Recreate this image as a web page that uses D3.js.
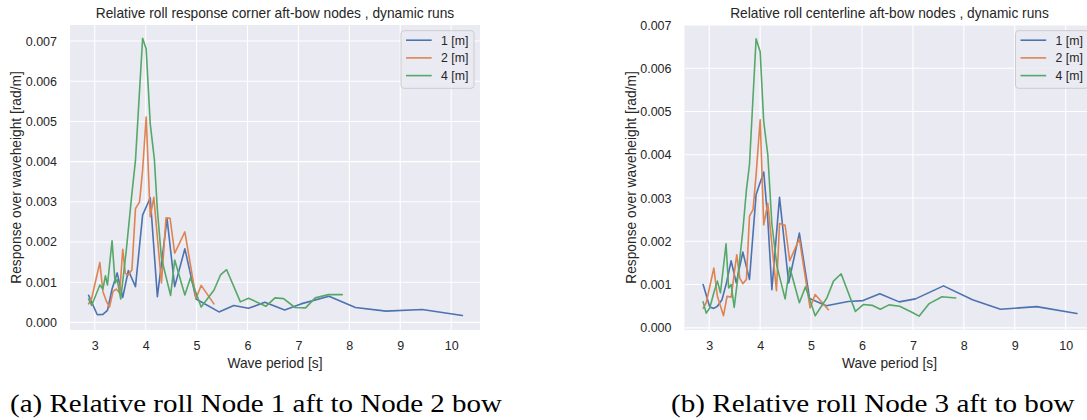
<!DOCTYPE html>
<html>
<head>
<meta charset="utf-8">
<script src="https://cdn.jsdelivr.net/npm/d3@7"></script>
<style>
  html, body { margin: 0; padding: 0; background: #ffffff; }
  svg { display: block; }
</style>
</head>
<body>
<svg id="chart" width="1087" height="420"></svg>
<script>
// ---------- DATA ----------
const xTicks = [3, 4, 5, 6, 7, 8, 9, 10];
const yTicks = [0, 0.001, 0.002, 0.003, 0.004, 0.005, 0.006, 0.007];
const legendLabels = ["1 [m]", "2 [m]", "4 [m]"];
const titles = [
  "Relative roll response corner aft-bow nodes , dynamic runs",
  "Relative roll centerline aft-bow nodes , dynamic runs"
];
const captions = [
  "(a) Relative roll Node 1 aft to Node 2 bow",
  "(b) Relative roll Node 3 aft to bow"
];
const xLabel = "Wave period [s]";
const yLabel = "Response over waveheight [rad/m]";

// Panel (a) – corner aft-bow nodes
const periodA1 = [2.88, 3.05, 3.16, 3.25, 3.34, 3.44, 3.55, 3.66, 3.80, 3.94, 4.09, 4.23, 4.42, 4.57, 4.77, 4.99, 5.44, 5.73, 6.02, 6.34, 6.73, 7.05, 7.60, 8.12, 8.72, 9.43, 10.22];
const respA1   = [0.00067, 0.00019, 0.00020, 0.00030, 0.00083, 0.00123, 0.00062, 0.00129, 0.00089, 0.00267, 0.00310, 0.00064, 0.00258, 0.00089, 0.00183, 0.00058, 0.00026, 0.00042, 0.00035, 0.00050, 0.00031, 0.00046, 0.00065, 0.00037, 0.00028, 0.00032, 0.00017];
const periodA2 = [2.88, 2.94, 3.10, 3.16, 3.23, 3.29, 3.36, 3.42, 3.49, 3.55, 3.60, 3.66, 3.73, 3.80, 3.88, 3.94, 4.01, 4.09, 4.16, 4.31, 4.40, 4.48, 4.57, 4.77, 4.99, 5.09, 5.34];
const respA2   = [0.00046, 0.00060, 0.00149, 0.00077, 0.00052, 0.00038, 0.00077, 0.00083, 0.00073, 0.00182, 0.00122, 0.00118, 0.00131, 0.00283, 0.00300, 0.00379, 0.00511, 0.00263, 0.00311, 0.00098, 0.00260, 0.00259, 0.00172, 0.00225, 0.00060, 0.00092, 0.00046];
const periodA4 = [2.88, 2.94, 3.10, 3.16, 3.21, 3.25, 3.34, 3.40, 3.44, 3.51, 3.62, 3.73, 3.80, 3.94, 4.01, 4.09, 4.17, 4.23, 4.31, 4.49, 4.57, 4.77, 4.88, 5.09, 5.34, 5.47, 5.59, 5.86, 6.02, 6.36, 6.54, 6.71, 6.93, 7.14, 7.33, 7.59, 7.86];
const respA4   = [0.00058, 0.00042, 0.00093, 0.00083, 0.00116, 0.00093, 0.00203, 0.00098, 0.00107, 0.00058, 0.00180, 0.00321, 0.00403, 0.00707, 0.00680, 0.00494, 0.00407, 0.00280, 0.00160, 0.00067, 0.00155, 0.00068, 0.00111, 0.00038, 0.00080, 0.00118, 0.00131, 0.00051, 0.00060, 0.00040, 0.00061, 0.00059, 0.00037, 0.00036, 0.00061, 0.00069, 0.00069];

// Panel (b) – centerline aft-bow nodes
const periodB1 = [2.88, 3.01, 3.09, 3.16, 3.25, 3.33, 3.43, 3.53, 3.66, 3.79, 3.92, 4.07, 4.15, 4.23, 4.38, 4.56, 4.77, 4.97, 5.30, 5.73, 6.02, 6.35, 6.73, 7.05, 7.60, 8.17, 8.72, 9.43, 10.22];
const respB1   = [0.00100, 0.00048, 0.00045, 0.00050, 0.00065, 0.00100, 0.00155, 0.00104, 0.00175, 0.00112, 0.00308, 0.00360, 0.00250, 0.00088, 0.00302, 0.00104, 0.00219, 0.00068, 0.00051, 0.00061, 0.00063, 0.00079, 0.00060, 0.00067, 0.00097, 0.00065, 0.00043, 0.00049, 0.00033];
const periodB2 = [2.88, 2.94, 3.09, 3.16, 3.28, 3.35, 3.43, 3.54, 3.60, 3.66, 3.73, 3.79, 3.86, 3.92, 4.00, 4.07, 4.15, 4.32, 4.38, 4.49, 4.58, 4.77, 4.98, 5.08, 5.34];
const respB2   = [0.00045, 0.00058, 0.00138, 0.00073, 0.00028, 0.00073, 0.00071, 0.00169, 0.00115, 0.00102, 0.00112, 0.00258, 0.00273, 0.00354, 0.00481, 0.00238, 0.00288, 0.00086, 0.00241, 0.00237, 0.00155, 0.00206, 0.00046, 0.00077, 0.00042];
const periodB4 = [2.88, 2.94, 3.01, 3.09, 3.16, 3.22, 3.33, 3.38, 3.43, 3.49, 3.55, 3.66, 3.73, 3.79, 3.92, 4.00, 4.07, 4.15, 4.23, 4.33, 4.49, 4.58, 4.77, 4.89, 5.08, 5.31, 5.44, 5.59, 5.87, 6.03, 6.20, 6.36, 6.53, 6.74, 6.98, 7.12, 7.32, 7.57, 7.84];
const respB4   = [0.00060, 0.00034, 0.00046, 0.00081, 0.00108, 0.00081, 0.00194, 0.00092, 0.00100, 0.00047, 0.00105, 0.00225, 0.00319, 0.00377, 0.00668, 0.00638, 0.00477, 0.00400, 0.00240, 0.00142, 0.00067, 0.00140, 0.00058, 0.00095, 0.00028, 0.00069, 0.00108, 0.00125, 0.00038, 0.00054, 0.00052, 0.00043, 0.00053, 0.00050, 0.00036, 0.00027, 0.00056, 0.00072, 0.00069];

// ---------- STYLE / LAYOUT ----------
const colors = ["#4c72b0", "#dd8452", "#55a868"];
const bg = "#eaeaf2";
const textColor = "#262626";
const sans = "'Liberation Sans', Arial, Helvetica, sans-serif";
const serif = "'Liberation Serif', 'DejaVu Serif', serif";

const plotTop = 25, plotBottom = 330, plotW = 410;
const xDomain = [2.514, 10.566];

const panels = [
  { left: 70, yDomain: [-0.00019, 0.0074], title: titles[0], caption: captions[0], capX: 10, capLen: 492,
    series: [[periodA1, respA1], [periodA2, respA2], [periodA4, respA4]] },
  { left: 684.5, yDomain: [-0.00005, 0.00700], title: titles[1], caption: captions[1], capX: 671, capLen: 403.5,
    series: [[periodB1, respB1], [periodB2, respB2], [periodB4, respB4]] }
];

const svg = d3.select("#chart");
svg.append("rect").attr("width", 1087).attr("height", 420).attr("fill", "#ffffff");

panels.forEach((p, pi) => {
  const x = d3.scaleLinear().domain(xDomain).range([p.left, p.left + plotW]);
  const y = d3.scaleLinear().domain(p.yDomain).range([plotBottom, plotTop]);
  const g = svg.append("g");

  // background
  g.append("rect")
    .attr("x", p.left).attr("y", plotTop)
    .attr("width", plotW).attr("height", plotBottom - plotTop)
    .attr("fill", bg);

  const clipId = "clip" + pi;
  g.append("clipPath").attr("id", clipId).append("rect")
    .attr("x", p.left).attr("y", plotTop)
    .attr("width", plotW).attr("height", plotBottom - plotTop);

  // grid
  const grid = g.append("g").attr("clip-path", `url(#${clipId})`);
  grid.selectAll("line.gx").data(xTicks).join("line")
    .attr("x1", d => x(d)).attr("x2", d => x(d))
    .attr("y1", plotTop).attr("y2", plotBottom)
    .attr("stroke", "#ffffff").attr("stroke-width", 1.1);
  grid.selectAll("line.gy").data(yTicks).join("line")
    .attr("y1", d => y(d)).attr("y2", d => y(d))
    .attr("x1", p.left).attr("x2", p.left + plotW)
    .attr("stroke", "#ffffff").attr("stroke-width", 1.1);

  // axes
  const xAxis = d3.axisBottom(x).tickValues(xTicks).tickSize(0).tickPadding(11).tickFormat(d3.format("d"));
  const yAxis = d3.axisLeft(y).tickValues(yTicks).tickSize(0).tickPadding(13).tickFormat(d3.format(".3f"));
  const gx = g.append("g").attr("transform", `translate(0,${plotBottom})`).call(xAxis);
  const gy = g.append("g").attr("transform", `translate(${p.left},0)`).call(yAxis);
  [gx, gy].forEach(a => {
    a.select(".domain").remove();
    a.selectAll("text").attr("fill", textColor).style("font-family", sans).style("font-size", "12.5px");
  });

  // lines
  const line = d3.line().x(d => x(d[0])).y(d => y(d[1]));
  const lines = g.append("g").attr("clip-path", `url(#${clipId})`);
  p.series.forEach((s, si) => {
    const pts = s[0].map((xv, i) => [xv, s[1][i]]);
    lines.append("path").datum(pts)
      .attr("d", line)
      .attr("fill", "none")
      .attr("stroke", colors[si])
      .attr("stroke-width", 1.6)
      .attr("stroke-linejoin", "round")
      .attr("stroke-linecap", "round");
  });

  // title
  g.append("text")
    .attr("x", p.left + plotW / 2).attr("y", 17.5)
    .attr("text-anchor", "middle")
    .attr("fill", textColor)
    .style("font-family", sans).style("font-size", "13.75px")
    .text(p.title);

  // x label
  g.append("text")
    .attr("x", p.left + plotW / 2).attr("y", 367.5)
    .attr("text-anchor", "middle")
    .attr("fill", textColor)
    .style("font-family", sans).style("font-size", "13.75px")
    .text(xLabel);

  // y label
  g.append("text")
    .attr("transform", `translate(${p.left - 49},${(plotTop + plotBottom) / 2}) rotate(-90)`)
    .attr("text-anchor", "middle")
    .attr("fill", textColor)
    .style("font-family", sans).style("font-size", "13.75px")
    .text(yLabel);

  // legend
  const lx = p.left + plotW - 79, ly = 30.7;
  const lg = g.append("g").attr("clip-path", null);
  lg.append("rect")
    .attr("x", lx).attr("y", ly).attr("width", 73).attr("height", 57.6)
    .attr("rx", 3).attr("ry", 3)
    .attr("fill", bg).attr("fill-opacity", 0.8)
    .attr("stroke", "#cccccc").attr("stroke-width", 1);
  legendLabels.forEach((lab, i) => {
    const yy = ly + 9.5 + i * 17.7;
    lg.append("line")
      .attr("x1", lx + 5).attr("x2", lx + 30.7)
      .attr("y1", yy).attr("y2", yy)
      .attr("stroke", colors[i]).attr("stroke-width", 1.6);
    lg.append("text")
      .attr("x", lx + 40).attr("y", yy)
      .attr("dy", "0.36em")
      .attr("fill", textColor)
      .style("font-family", sans).style("font-size", "12.3px")
      .text(lab);
  });

  // caption
  svg.append("text")
    .attr("x", p.capX).attr("y", 411.5)
    .attr("textLength", p.capLen).attr("lengthAdjust", "spacingAndGlyphs")
    .attr("fill", "#000000")
    .style("font-family", serif).style("font-size", "26px")
    .text(p.caption);
});
</script>
</body>
</html>
